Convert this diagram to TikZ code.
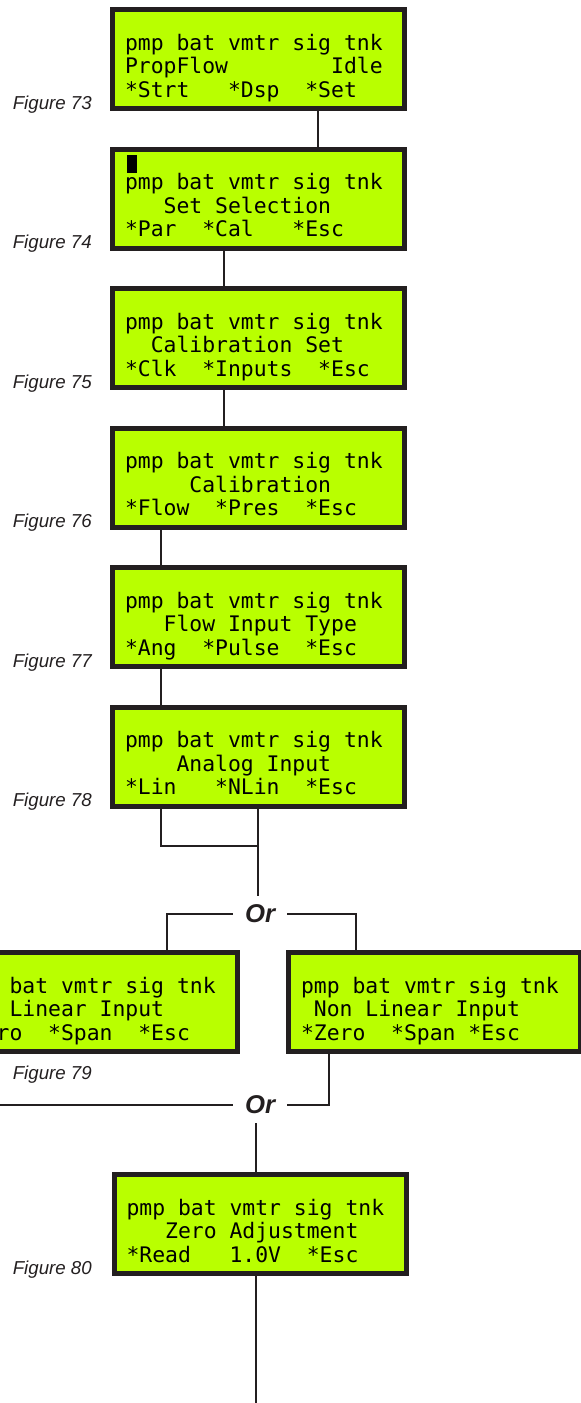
\documentclass[tikz,border=0pt]{standalone}
\usepackage{fontspec}
\setmainfont{Liberation Sans}
\newfontfamily\lcdfont{DejaVu Sans Mono}
\usetikzlibrary{positioning}
\definecolor{lcdgreen}{HTML}{B9FF00}
\definecolor{frame}{HTML}{231F20}
% one or more LCD character cells of blank
\newcommand{\gap}[1][1]{\hspace*{#1\fontcharwd\font`x}}
\newcommand{\lcdhead}{pmp\gap bat\gap vmtr\gap sig\gap tnk}
\newcommand{\topstrut}{\rule{0pt}{16pt}}
\newcommand{\botstrut}{\rule[-10.5pt]{0pt}{10.5pt}}

\begin{document}
\begin{tikzpicture}[
  node distance=35.5pt,
  lcd/.style={draw=frame, fill=lcdgreen, line width=5pt, minimum width=292pt,
              minimum height=99pt, text width=267pt, inner xsep=12.5pt,
              inner ysep=0pt, align=left,
              font=\lcdfont\fontsize{21.4pt}{23.5pt}\selectfont},
  fig/.style={font=\fontsize{18.7pt}{22pt}\selectfont\itshape, text=frame,
              anchor=base east, inner sep=0pt},
  ortext/.style={font=\fontsize{25.7pt}{30pt}\selectfont\bfseries\itshape,
                 text=frame, inner xsep=12pt, inner ysep=9pt},
  wire/.style={draw=frame, line width=2pt}]
  \useasboundingbox (0,0) rectangle (581pt,-1403pt);
  \clip (0,0) rectangle (581pt,-1403pt);

  % main column of displays
  \node[lcd] (f73) at (258.5pt,-59pt)
       {\topstrut\\\lcdhead\\PropFlow\gap[8]Idle\\\mbox{}*Strt\gap[3]*Dsp\gap[2]*Set\botstrut};
  \node[lcd, below=of f73] (f74)
       {\hspace*{2pt}\rule[-7pt]{10pt}{18pt}\topstrut\\\lcdhead\\
        \gap[3]Set\gap Selection\\\mbox{}*Par\gap[2]*Cal\gap[3]*Esc\botstrut};
  \node[lcd, below=of f74] (f75)
       {\topstrut\\\lcdhead\\\gap[2]Calibration\gap Set\\\mbox{}*Clk\gap[2]*Inputs\gap[2]*Esc\botstrut};
  \node[lcd, below=of f75] (f76)
       {\topstrut\\\lcdhead\\\gap[5]Calibration\\\mbox{}*Flow\gap[2]*Pres\gap[2]*Esc\botstrut};
  \node[lcd, below=of f76] (f77)
       {\topstrut\\\lcdhead\\\gap[3]Flow\gap Input\gap Type\\\mbox{}*Ang\gap[2]*Pulse\gap[2]*Esc\botstrut};
  \node[lcd, below=of f77] (f78)
       {\topstrut\\\lcdhead\\\gap[4]Analog\gap Input\\\mbox{}*Lin\gap[3]*NLin\gap[2]*Esc\botstrut};

  % branch displays
  \node[lcd] (lin) at (91.5pt,-1002pt)
       {\topstrut\\\lcdhead\\\gap[4]Linear\gap Input\\\mbox{}*Zero\gap[2]*Span\gap[2]*Esc\botstrut};
  \node[lcd] (nlin) at (434.5pt,-1002pt)
       {\topstrut\\\lcdhead\\\gap Non\gap Linear\gap Input\\\mbox{}*Zero\gap[2]*Span\gap*Esc\botstrut};
  \node[lcd] (f80) at (260pt,-1224pt)
       {\topstrut\\\lcdhead\\\gap[3]Zero\gap Adjustment\\\mbox{}*Read\gap[3]1.0V\gap[2]*Esc\botstrut};

  \node[ortext] (or1) at (260pt,-914pt) {Or};
  \node[ortext] (or2) at (260pt,-1105pt) {Or};
  \coordinate (tail) at (256pt,-1410pt);

  % figure numbers
  \node[fig] (l73) at ([xshift=-18pt,yshift=2pt]f73.south west) {Figure 73};
  \node[fig] (l74) at ([xshift=-18pt,yshift=2pt]f74.south west) {Figure 74};
  \node[fig] (l75) at ([xshift=-18pt,yshift=2pt]f75.south west) {Figure 75};
  \node[fig] (l76) at ([xshift=-18pt,yshift=2pt]f76.south west) {Figure 76};
  \node[fig] (l77) at ([xshift=-18pt,yshift=2pt]f77.south west) {Figure 77};
  \node[fig] (l78) at ([xshift=-18pt,yshift=2pt]f78.south west) {Figure 78};
  \node[fig] (l79) at (92pt,-1079pt) {Figure 79};
  \node[fig] (l80) at ([xshift=-19.5pt,yshift=2pt]f80.south west) {Figure 80};

  % connectors
  \draw[wire] ([xshift=59.5pt]f73.south) -- ([xshift=59.5pt]f74.north);
  \draw[wire] ([xshift=-34.5pt]f74.south) -- ([xshift=-34.5pt]f75.north);
  \draw[wire] ([xshift=-34.5pt]f75.south) -- ([xshift=-34.5pt]f76.north);
  \draw[wire] ([xshift=-97.5pt]f76.south) -- ([xshift=-97.5pt]f77.north);
  \draw[wire] ([xshift=-97.5pt]f77.south) -- ([xshift=-97.5pt]f78.north);
  \draw[wire] ([xshift=-97.5pt]f78.south) |- ([xshift=-0.5pt,yshift=-37.5pt]f78.south);
  \draw[wire] ([xshift=-0.5pt]f78.south) -- ([xshift=-0.5pt]f78.south |- or1.north);
  \draw[wire] (or1.west) -| ([xshift=75.5pt]lin.north);
  \draw[wire] (or1.east) -| ([xshift=-78.5pt]nlin.north);
  \draw[wire] (or2.west) -| ([xshift=-105.5pt]lin.south);
  \draw[wire] (or2.east) -| ([xshift=-105.5pt]nlin.south);
  \draw[wire] ([xshift=-4pt]f80.north) -- ([xshift=-4pt]f80.north |- or2.south);
  \draw[wire] ([xshift=-4pt]f80.south) -- (tail);
\end{tikzpicture}
\end{document}
